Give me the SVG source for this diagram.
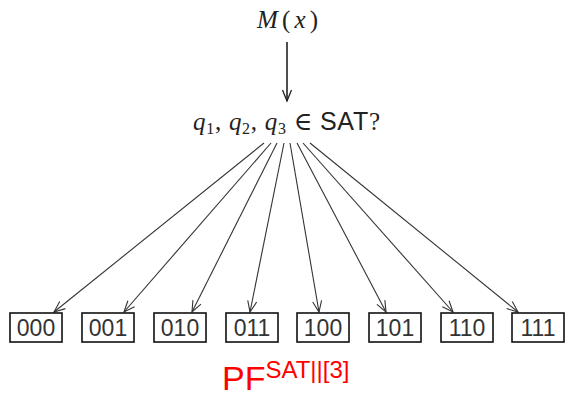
<svg xmlns="http://www.w3.org/2000/svg" width="565" height="398" viewBox="0 0 565 398">
<style>
.math{font-family:"Liberation Serif","DejaVu Serif",serif;font-style:italic;font-size:25px;fill:#222}
.rm{font-family:"Liberation Serif","DejaVu Serif",serif;font-style:normal}
.sf{font-family:"Liberation Sans","DejaVu Sans",sans-serif;font-style:normal}
.box rect{fill:#fff;stroke:#111;stroke-width:1.6}
.box text{font-family:"Liberation Sans","DejaVu Sans",sans-serif;font-size:23px;fill:#333;text-anchor:middle}
.conn line{stroke:#333;stroke-width:1.1;fill:none}
.sub{font-size:16px}
</style>
<defs>
<marker id="ah" viewBox="-12 -6 14 12" markerWidth="14" markerHeight="12" refX="0" refY="0" orient="auto" markerUnits="userSpaceOnUse">
<path d="M-11,-4.5 L0,0 L-11,4.5" fill="none" stroke="#333" stroke-width="1.1"/>
</marker>
<marker id="ah2" viewBox="-12 -6 14 12" markerWidth="14" markerHeight="12" refX="0" refY="0" orient="auto" markerUnits="userSpaceOnUse">
<path d="M-11,-4.5 L0,0 L-11,4.5" fill="none" stroke="#222" stroke-width="1.3"/>
</marker>
</defs>
<g id="m">
<text class="math" x="257" y="28" textLength="61" lengthAdjust="spacing">M<tspan class="rm">(</tspan>x<tspan class="rm">)</tspan></text>
</g>
<g id="q">
<text class="math" x="193" y="130" textLength="187" lengthAdjust="spacing">q<tspan class="rm sub" dy="4">1</tspan><tspan class="rm" dy="-4">, </tspan>q<tspan class="rm sub" dy="4">2</tspan><tspan class="rm" dy="-4">, </tspan>q<tspan class="rm sub" dy="4">3</tspan><tspan class="rm" dy="-4"> ∈ </tspan><tspan class="sf">SAT</tspan><tspan class="rm">?</tspan></text>
</g>
<g class="conn" id="connectors">
<line x1="287" y1="42" x2="287" y2="101" style="stroke:#222;stroke-width:1.6" marker-end="url(#ah2)"/>
<line x1="264" y1="143" x2="54" y2="312" marker-end="url(#ah)"/>
<line x1="271" y1="143" x2="124" y2="312" marker-end="url(#ah)"/>
<line x1="277" y1="143" x2="192" y2="312" marker-end="url(#ah)"/>
<line x1="284" y1="143" x2="250" y2="312" marker-end="url(#ah)"/>
<line x1="290" y1="143" x2="319" y2="312" marker-end="url(#ah)"/>
<line x1="297" y1="143" x2="386" y2="312" marker-end="url(#ah)"/>
<line x1="303" y1="143" x2="453" y2="312" marker-end="url(#ah)"/>
<line x1="310" y1="143" x2="518" y2="312" marker-end="url(#ah)"/>
</g>
<g id="b000" class="box"><rect x="10" y="313" width="52" height="29"/><text x="36" y="336">000</text></g>
<g id="b001" class="box"><rect x="82" y="313" width="52" height="29"/><text x="108" y="336">001</text></g>
<g id="b010" class="box"><rect x="154" y="313" width="52" height="29"/><text x="180" y="336">010</text></g>
<g id="b011" class="box"><rect x="226" y="313" width="52" height="29"/><text x="252" y="336">011</text></g>
<g id="b100" class="box"><rect x="297" y="313" width="52" height="29"/><text x="323" y="336">100</text></g>
<g id="b101" class="box"><rect x="369" y="313" width="52" height="29"/><text x="395" y="336">101</text></g>
<g id="b110" class="box"><rect x="441" y="313" width="52" height="29"/><text x="467" y="336">110</text></g>
<g id="b111" class="box"><rect x="512" y="313" width="52" height="29"/><text x="538" y="336">111</text></g>
<g id="label">
<text x="222" y="390" font-family="Liberation Sans, DejaVu Sans, sans-serif" font-size="34" fill="#ff0000">PF<tspan font-size="24" dy="-12">SAT||[3]</tspan></text>
</g>
</svg>
